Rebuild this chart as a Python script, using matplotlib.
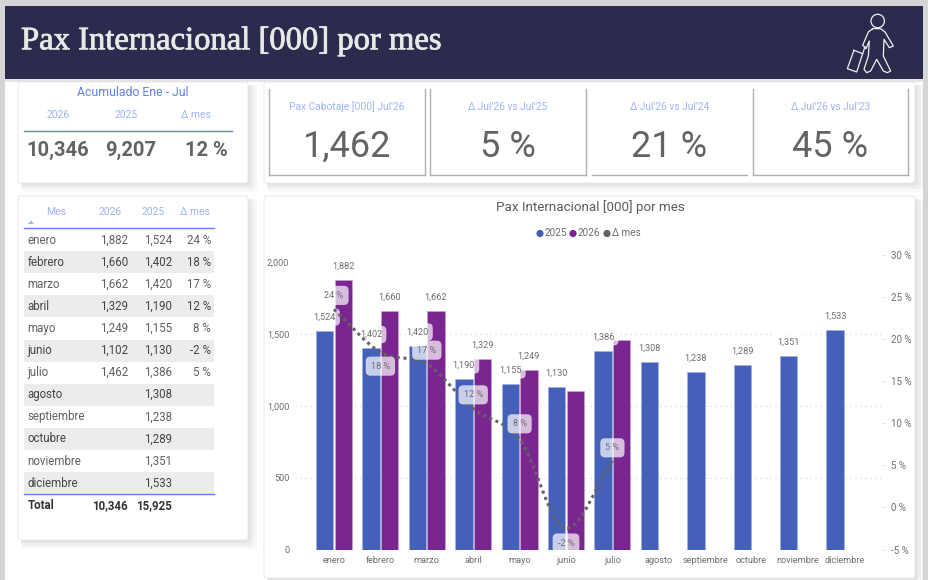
################################################
# Pax Internacional dashboard page, one figure #
################################################

import numpy as np
import matplotlib as mpl
mpl.use('Agg')
import matplotlib.pyplot as plt
import matplotlib.patheffects as pe
from matplotlib.patches import Rectangle, FancyBboxPatch, Circle, PathPatch, Polygon
from matplotlib.path import Path

plt.rcParams['font.family'] = ['Roboto', 'DejaVu Sans']

# data
months = ['enero', 'febrero', 'marzo', 'abril', 'mayo', 'junio', 'julio',
          'agosto', 'septiembre', 'octubre', 'noviembre', 'diciembre']
pax_2025 = [1524, 1402, 1420, 1190, 1155, 1130, 1386, 1308, 1238, 1289, 1351, 1533]
pax_2026 = [1882, 1660, 1662, 1329, 1249, 1102, 1462]
delta_mes = [23.5, 18.4, 17.0, 11.7, 8.1, -2.5, 5.5]
delta_labels = ['24 %', '18 %', '17 %', '12 %', '8 %', '-2 %', '5 %']
total_2026 = '10,346'
total_2025 = '15,925'
cum_values = ['10,346', '9,207', '12 %']
kpi_titles = ["Pax Cabotaje [000] Jul'26", "Δ Jul'26 vs Jul'25", "Δ Jul'26 vs Jul'24", "Δ Jul'26 vs Jul'23"]
kpi_values = ['1,462', '5 %', '21 %', '45 %']
left_ticks = [0, 500, 1000, 1500, 2000]
right_ticks = [-5, 0, 5, 10, 15, 20, 25, 30]

# colours
navy = '#2b2c4d'
blue = '#4560b9'
purple = '#7a2690'
grey = '#636363'
txt = '#6e6e6e'
lblue = '#9db4f5'
mblue = '#5f80ee'
W, H = 929, 580


def card(bg, x0, y0, x1, y1):
    # soft shadow then the white card
    for i, a in zip([9, 6, 3], [0.05, 0.07, 0.09]):
        bg.add_patch(FancyBboxPatch((x0+3, y0+3), x1-x0+i-3, y1-y0+i-3, boxstyle='round,pad=0,rounding_size=4',
                                    fc='#808080', ec='none', alpha=a))
    bg.add_patch(FancyBboxPatch((x0, y0), x1-x0, y1-y0, boxstyle='round,pad=0,rounding_size=3',
                                fc='white', ec='#e6e6e6', lw=0.6))


def smooth_path(x, y):
    # bezier through the data points, handles flattened at local extremes
    x = np.array(x, dtype=float)
    y = np.array(y, dtype=float)
    slopes = np.gradient(y, x)
    diffs = np.diff(y)
    for i in range(1, len(y)-1):
        if diffs[i-1]*diffs[i] <= 0: slopes[i] = 0
    verts = [(x[0], y[0])]
    codes = [Path.MOVETO]
    for i in range(len(x)-1):
        h = (x[i+1]-x[i])/3.
        verts += [(x[i]+h, y[i]+slopes[i]*h), (x[i+1]-h, y[i+1]-slopes[i+1]*h), (x[i+1], y[i+1])]
        codes += [Path.CURVE4]*3
    return Path(verts, codes)


fig = plt.figure(figsize=(W/100., H/100.), dpi=100, facecolor='white')
bg = fig.add_axes([0, 0, 1, 1])
bg.set_xlim(0, W)
bg.set_ylim(H, 0)
bg.axis('off')

# page frame and banner
bg.add_patch(Rectangle((0, 0), W, 6, fc='#d5d5d7', ec='none'))
bg.add_patch(Rectangle((0, 0), 5, H, fc='#d5d5d7', ec='none'))
bg.add_patch(Rectangle((923, 0), 6, H, fc='#d5d5d7', ec='none'))
bg.add_patch(Rectangle((5, 79), 918, 3, fc='#e4e4e4', ec='none'))

# cards
card(bg, 18, 82, 248, 183)
card(bg, 264, 82, 915, 183)
card(bg, 18, 196, 248, 540)
card(bg, 264, 196, 915, 578)
bg.add_patch(Rectangle((5, 6), 918, 73, fc=navy, ec='none'))

title = bg.text(21, 41, 'Pax Internacional [000] por mes', family='Liberation Serif', fontsize=23.5,
                color='#e8e8e8', ha='left', va='center')
title.set_path_effects([pe.withStroke(linewidth=0.6, foreground='#e8e8e8')])

# traveller icon
scale = 1/3.
body = [(98, 68), (85, 78), (68, 118), (78, 128), (88, 105), (85, 150), (72, 190), (80, 200), (92, 195),
        (110, 160), (130, 195), (142, 200), (152, 195), (130, 150), (132, 100), (148, 125), (160, 120),
        (135, 78), (122, 68), (98, 68)]
case = [(42, 133), (68, 143), (50, 198), (22, 188), (42, 133)]
handle = [(68, 143), (75, 122)]
for pts in [body, case, handle]:
    bg.plot([840+p[0]*scale for p in pts], [6+p[1]*scale for p in pts], color='#f0f0f0', lw=0.9)
bg.add_patch(Circle((877.7, 21), 6.7, fc='none', ec='#f0f0f0', lw=0.9))

# accumulated card
bg.text(133, 93, 'Acumulado Ene - Jul', color=mblue, fontsize=8.8, ha='center', va='center')
for x, s in zip([58, 125.7, 195.7], ['2026', '2025', 'Δ mes']):
    bg.text(x, 115.5, s, color=lblue, fontsize=7.5, ha='center', va='center')
bg.plot([24, 232], [130.5, 130.5], color=mblue, lw=1)
for x, s in zip([58, 131, 206], cum_values):
    bg.text(x, 150, s, color=grey, fontsize=14.5, ha='center', va='center', weight='bold')

# kpi boxes
box_x = [(269.5, 425), (430.5, 585.7), (592, 747), (753, 908)]
for i, (x0, x1) in enumerate(box_x):
    bg.plot([x0, x1], [175, 175], color='#b0b0b0', lw=1)
    if i != 2:
        bg.plot([x0, x0], [89, 175], color='#b0b0b0', lw=1)
        bg.plot([x1, x1], [89, 175], color='#b0b0b0', lw=1)
    xc = 0.5*(x0+x1)
    bg.text(xc, 106.5, kpi_titles[i], color=lblue, fontsize=7.4, ha='center', va='center')
    bg.text(xc, 147, kpi_values[i], color=grey, fontsize=26, ha='center', va='center')

# table
row_h = 22.1
row_y0 = 229
tsize = 8.3
for x, s in zip([56, 110, 153, 195], ['Mes', '2026', '2025', 'Δ mes']):
    bg.text(x, 212, s, color=lblue, fontsize=7.5, ha='center', va='center')
bg.add_patch(Polygon([(28, 224), (31, 220.5), (34, 224)], fc=lblue, ec='none'))
bg.plot([24, 214], [227.5, 227.5], color=mblue, lw=1)
for i, m in enumerate(months):
    yc = row_y0+row_h*(i+0.5)
    if i % 2 == 1:
        bg.add_patch(Rectangle((24, yc-row_h/2.), 190, row_h, fc='#ececec', ec='none'))
    col = '#444444' if i % 2 == 1 else '#606060'
    bg.text(27.5, yc, m, color=col, fontsize=tsize, ha='left', va='center')
    if i < len(pax_2026):
        bg.text(128, yc, '{:,}'.format(pax_2026[i]), color=col, fontsize=tsize, ha='right', va='center')
        bg.text(211, yc, delta_labels[i], color=col, fontsize=tsize, ha='right', va='center')
    bg.text(172, yc, '{:,}'.format(pax_2025[i]), color=col, fontsize=tsize, ha='right', va='center')
bg.plot([24, 214], [493.5, 493.5], color=mblue, lw=1)
bg.text(27.5, 505.5, 'Total', color='#333333', fontsize=tsize, ha='left', va='center', weight='bold')
bg.text(128, 505.5, total_2026, color='#333333', fontsize=tsize, ha='right', va='center', weight='bold')
bg.text(172, 505.5, total_2025, color='#333333', fontsize=tsize, ha='right', va='center', weight='bold')

# chart title and legend
bg.text(590, 207.5, 'Pax Internacional [000] por mes', color='#5a5a5a', fontsize=9.6, ha='center', va='center')
for x, c, s in zip([540, 573, 607], [blue, purple, grey], ['2025', '2026', 'Δ mes']):
    bg.add_patch(Circle((x, 233.5), 3.6, fc=c, ec='none'))
    bg.text(x+5, 233.5, s, color=txt, fontsize=7.2, ha='left', va='center')

# combo chart
x_left, x_right, y_top, y_bot = 295., 881.7, 254.5, 549.5
ax = fig.add_axes([x_left/W, 1-y_bot/H, (x_right-x_left)/W, (y_bot-y_top)/H])
ax.patch.set_alpha(0)
step = 46.4
ax.set_xlim((x_left-334)/step, (x_right-334)/step)
ax.set_ylim(0, 2057)
for s in ax.spines.values(): s.set_visible(False)

pos = np.arange(len(months))
pos26 = np.arange(len(pax_2026))
width = 0.373
lsize = 6.6
ax.set_yticks(left_ticks)
ax.set_yticklabels(['{:,}'.format(v) for v in left_ticks], fontsize=lsize, color=txt)
ax.set_xticks(pos)
ax.set_xticklabels(months, fontsize=lsize, color=txt)
ax.tick_params(axis='both', length=0)
ax.tick_params(axis='y', pad=4)
ax.tick_params(axis='x', pad=5)
for v in left_ticks[:-1]:
    ax.axhline(v, color='#d8d8d8', lw=0.9, ls=(0, (1, 3)), zorder=1)

ax.bar(pos-0.2, pax_2025, width, color=blue, edgecolor='#9fb0e4', linewidth=0.4, zorder=2)
ax.bar(pos26+0.2, pax_2026, width, color=purple, edgecolor='#c9a5d4', linewidth=0.4, zorder=2)

label_box = dict(boxstyle='round,pad=0.45,rounding_size=0.5', fc='white', ec='none', alpha=0.7)
for i, v in enumerate(pax_2025):
    ax.annotate('{:,}'.format(v), (i-0.2, v), xytext=(0, 10), textcoords='offset points', ha='center',
                va='center', fontsize=lsize, color=txt, bbox=label_box, zorder=3)
# junio and julio 2026 have no label on the chart
for i, v in enumerate(pax_2026[:5]):
    ax.annotate('{:,}'.format(v), (i+0.2, v), xytext=(0, 10), textcoords='offset points', ha='center',
                va='center', fontsize=lsize, color=txt, zorder=3)

# delta line on the second axis
ax2 = ax.twinx()
ax2.patch.set_alpha(0)
ax2.set_ylim(-5, 30)
for s in ax2.spines.values(): s.set_visible(False)
ax2.set_yticks(right_ticks)
ax2.set_yticklabels(['{} %'.format(v) for v in right_ticks], fontsize=7, color=txt)
ax2.tick_params(axis='y', length=1.5, width=0.6, color='#cccccc', pad=5)

ax2.add_patch(PathPatch(smooth_path(pos26, delta_mes), fc='none', ec=grey, lw=2.2, ls=(0, (1, 1.2)), zorder=4))

delta_off = [10, -10, 10, 10, 11, -10.5, 9.5]
delta_box = dict(boxstyle='round,pad=0.55,rounding_size=0.5', fc='white', ec='none', alpha=0.7)
for i, v in enumerate(delta_mes):
    ax2.annotate(delta_labels[i], (i, v), xytext=(0, delta_off[i]), textcoords='offset points', ha='center',
                 va='center', fontsize=lsize, color=txt, bbox=delta_box, zorder=5, annotation_clip=False)

fig.savefig('out.png', dpi=100)
